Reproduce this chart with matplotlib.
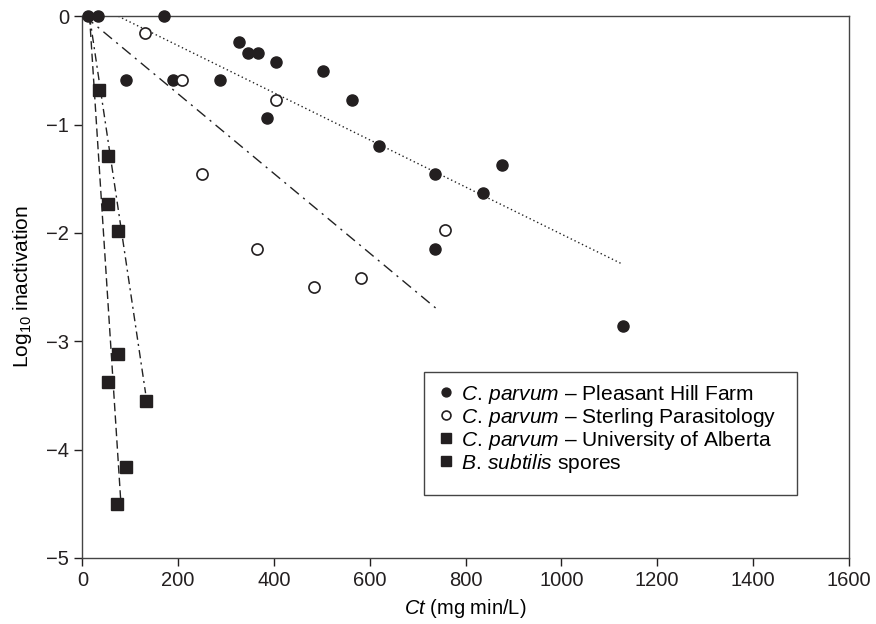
import matplotlib
matplotlib.use("Agg")
import matplotlib.pyplot as plt
from matplotlib import font_manager
from matplotlib.patches import Rectangle

plt.rcParams['font.family'] = ['Liberation Sans', 'DejaVu Sans']
plt.rcParams['mathtext.fontset'] = 'custom'
plt.rcParams['mathtext.rm'] = 'Liberation Sans'
plt.rcParams['mathtext.it'] = 'Liberation Sans:italic'

names = {f.name for f in font_manager.fontManager.ttflist}
tick_family = 'Liberation Sans Narrow' if 'Liberation Sans Narrow' in names else 'Liberation Sans'

# Data
phf_x = [12, 33, 170, 92, 189, 288, 326, 346, 367, 405, 503, 562, 385, 620, 737, 836, 875, 737, 1128]
phf_y = [0, 0, 0, -0.59, -0.59, -0.59, -0.24, -0.335, -0.335, -0.42, -0.51, -0.77, -0.94, -1.2, -1.46, -1.63, -1.37, -2.15, -2.86]

sp_x = [131, 209, 405, 249, 365, 484, 581, 756]
sp_y = [-0.157, -0.59, -0.77, -1.46, -2.15, -2.5, -2.42, -1.97]

ua_x = [35, 53, 73.5, 132]
ua_y = [-0.68, -1.29, -1.98, -3.55]

bs_x = [53, 73.5, 53, 92, 71.5]
bs_y = [-1.73, -3.12, -3.38, -4.16, -4.5]

# Fitted lines (end points)
phf_fit_x = [75, 1128]
phf_fit_y = [0, -2.29]
sp_fit_x = [5, 742]
sp_fit_y = [0, -2.71]
ua_fit_x = [15, 132]
ua_fit_y = [0, -3.48]
bs_fit_x = [15, 82]
bs_fit_y = [0, -4.6]

xticks = [0, 200, 400, 600, 800, 1000, 1200, 1400, 1600]
yticks = [0, -1, -2, -3, -4, -5]

fig = plt.figure(figsize=(8.76, 6.24), dpi=100)
ax = fig.add_axes([0.094, 0.106, 0.875, 0.868])

ax.plot(phf_fit_x, phf_fit_y, color='#222222', lw=1.0, linestyle=(0, (1, 2)))
ax.plot(sp_fit_x, sp_fit_y, color='#222222', lw=1.0, linestyle=(0, (8, 4, 1.5, 4)))
ax.plot(ua_fit_x, ua_fit_y, color='#222222', lw=1.0, linestyle=(0, (6, 3, 1.5, 3)))
ax.plot(bs_fit_x, bs_fit_y, color='#222222', lw=1.0, linestyle=(0, (6, 3)))

ax.plot(phf_x, phf_y, 'o', color='#231f20', ms=8, clip_on=False, zorder=5,
        label=r'$\it{C.\,parvum}$ – Pleasant Hill Farm')
ax.plot(sp_x, sp_y, 'o', mfc='white', mec='#231f20', mew=1.2, ms=8, clip_on=False, zorder=5,
        label=r'$\it{C.\,parvum}$ – Sterling Parasitology')
ax.plot(ua_x, ua_y, 's', color='#231f20', ms=8.5, clip_on=False, zorder=5,
        label=r'$\it{C.\,parvum}$ – University of Alberta')
ax.plot(bs_x, bs_y, 's', color='#231f20', ms=8.5, clip_on=False, zorder=5,
        label=r'$\it{B.\,subtilis}$ spores')

ax.set_xlim(0, 1600)
ax.set_ylim(-5, 0)
ax.set_xticks(xticks)
ax.set_yticks(yticks)
ax.set_yticklabels(['0' if v == 0 else '\u2212%d' % abs(v) for v in yticks])
ax.tick_params(direction='out', length=6, width=1, labelsize=14.5, colors='#231f20',
               labelfontfamily=tick_family)
for s in ax.spines.values():
    s.set_linewidth(1.0)
    s.set_color('#444444')

ax.set_xlabel(r'$\it{Ct}$ (mg min/L)', fontsize=14.5, labelpad=5)
ax.set_ylabel(r'Log$_{10}$ inactivation', fontsize=15, labelpad=9)

# legend box drawn separately (extra space at right and bottom as in the reference)
ax.add_patch(Rectangle((0.4457, 0.1162), 0.4865, 0.227, transform=ax.transAxes,
                       facecolor='white', edgecolor='#444444', lw=1.0, zorder=6, clip_on=False))
leg = ax.legend(loc='upper left', bbox_to_anchor=(0.4662, 0.3235), frameon=False,
                fontsize=15.1, markerscale=0.8, handlelength=0.6,
                handletextpad=0.4, borderpad=0, labelspacing=0.0, borderaxespad=0)
leg.set_zorder(7)

fig.savefig('out.png', dpi=100)
